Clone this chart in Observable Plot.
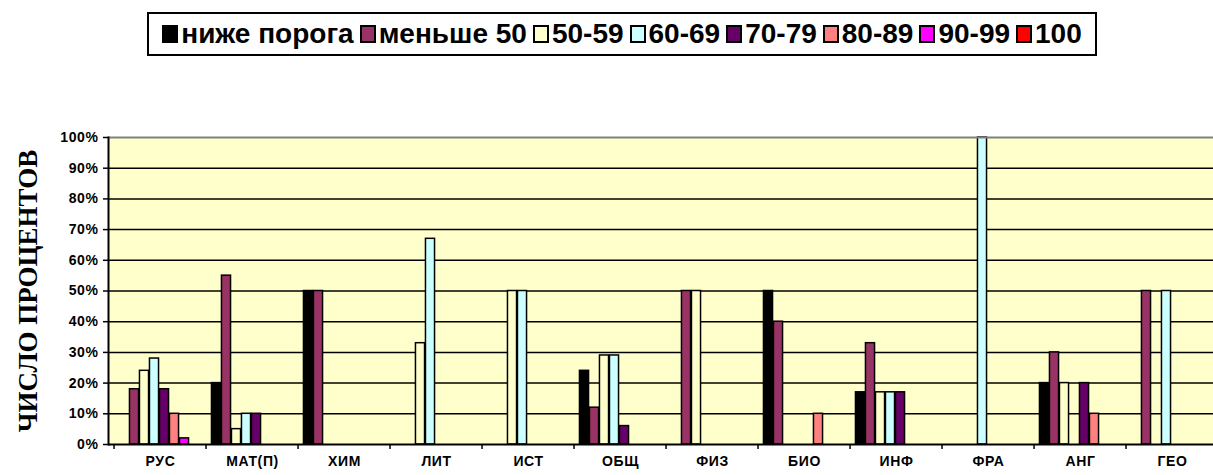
<!DOCTYPE html>
<html><head><meta charset="utf-8">
<script src="https://cdn.jsdelivr.net/npm/d3@7"></script>
<script src="https://cdn.jsdelivr.net/npm/@observablehq/plot@0.6"></script>
<style>
body{margin:0;background:#fff;font-family:"Liberation Sans",Arial,sans-serif;}
#wrap{width:1213px;height:475px;overflow:hidden;}
#top{position:relative;width:1213px;height:100px;}
#legend{position:absolute;left:147px;top:12px;width:946px;height:40px;border:2px solid #000;display:flex;align-items:center;justify-content:center;font-weight:bold;font-size:28px;color:#000;white-space:nowrap;}
.item{display:flex;align-items:center;margin:0 3px;}
.sw{width:12px;height:14px;border:2px solid #000;margin-right:3px;box-sizing:content-box;}
#chart svg{display:block;}
#chart svg g[aria-label="y-axis tick label"] text,
#chart svg g[aria-label="x-axis tick label"] text{letter-spacing:0.6px;}
</style></head>
<body>
<div id="wrap">
<div id="top"><div id="legend"></div></div>
<div id="chart"></div>
</div>
<script>
const categories = ["РУС","МАТ(П)","ХИМ","ЛИТ","ИСТ","ОБЩ","ФИЗ","БИО","ИНФ","ФРА","АНГ","ГЕО"];
const series = ["ниже порога","меньше 50","50-59","60-69","70-79","80-89","90-99","100"];
const seriesColors = ["#000000","#993366","#FFFFCC","#CCFFFF","#660066","#FF8080","#FF00FF","#FF0000"];
const belowThreshold = [0,20,50,0,0,24,0,50,17,0,20,0];
const under50        = [18,55,50,0,0,12,50,40,33,0,30,50];
const score50_59     = [24,5,0,33,50,29,50,0,17,0,20,0];
const score60_69     = [28,10,0,67,50,29,0,0,17,100,0,50];
const score70_79     = [18,10,0,0,0,6,0,0,17,0,20,0];
const score80_89     = [10,0,0,0,0,0,0,10,0,0,10,0];
const score90_99     = [2,0,0,0,0,0,0,0,0,0,0,0];
const score100       = [0,0,0,0,0,0,0,0,0,0,0,0];
const yTicks = [0,10,20,30,40,50,60,70,80,90,100];
const yTitle = "ЧИСЛО ПРОЦЕНТОВ";

const valueArrays = [belowThreshold, under50, score50_59, score60_69, score70_79, score80_89, score90_99, score100];
const data = categories.flatMap((c, i) => series.map((s, j) => ({category: c, series: s, value: valueArrays[j][i]})));

// legend
const legend = document.getElementById("legend");
series.forEach((s, j) => {
  const it = document.createElement("div"); it.className = "item";
  const sw = document.createElement("div"); sw.className = "sw"; sw.style.background = seriesColors[j];
  const t = document.createElement("span"); t.textContent = s;
  it.appendChild(sw); it.appendChild(t); legend.appendChild(it);
});

const left = 108, right = 1223;
const band = (right - left) / categories.length;
const slot = 10;
const font = "'Liberation Sans', Arial, sans-serif";

const barMarks = series.map((s, j) => Plot.barY(data.filter(d => d.series === s && d.value > 0), {
  x: "category", y: "value", fill: seriesColors[j], stroke: "#000", strokeWidth: 1.5,
  insetLeft: (band - slot) / 2, insetRight: (band - slot) / 2, dx: (j - 3.5) * slot - 1
}));

const chart = Plot.plot({
  width: 1213, height: 375,
  marginLeft: left, marginRight: 0, marginTop: 37, marginBottom: 31,
  style: {fontFamily: font, color: "#000", background: "#fff", overflow: "visible"},
  x: {type: "band", domain: categories, range: [left, right], padding: 0},
  y: {domain: [0, 100]},
  marks: [
    Plot.frame({fill: "#FFFFCC", stroke: null}),
    Plot.ruleY(yTicks.filter(t => t > 0 && t < 100), {stroke: "#000", strokeWidth: 1.5}),
    ...barMarks,
    Plot.ruleY([100], {stroke: "#808080", strokeWidth: 2}),
    Plot.ruleY([0], {stroke: "#000", strokeWidth: 2}),
    Plot.axisY({ticks: yTicks, tickFormat: d => d + "%", tickSize: 5, tickPadding: 5, fontSize: 14, fontWeight: "bold", strokeWidth: 1.5, label: null}),
    Plot.frame({anchor: "left", stroke: "#000", strokeWidth: 2}),
    Plot.axisX({tickSize: 5, tickFormat: () => "", dx: -band / 2, strokeWidth: 1.5, label: null}),
    Plot.axisX({tickSize: 0, tickPadding: 12, fontSize: 14, fontWeight: "bold", label: null}),
    Plot.text([yTitle], {frameAnchor: "left", dx: -80, rotate: -90, textAnchor: "middle", fontFamily: "'Liberation Serif', 'Times New Roman', serif", fontWeight: "bold", fontSize: 27, fill: "#000"})
  ]
});
document.getElementById("chart").appendChild(chart);
</script>
</body></html>
